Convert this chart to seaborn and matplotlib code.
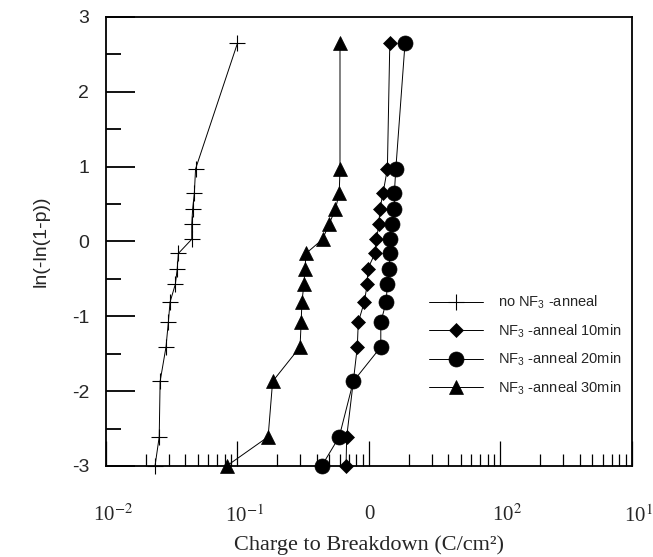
"""Weibull plot of charge to breakdown for NF3-annealed oxides."""

import numpy as np
import pandas as pd
import matplotlib
matplotlib.use("Agg")
import matplotlib.pyplot as plt
import seaborn as sns
from matplotlib.ticker import LogLocator, MultipleLocator, NullFormatter
from matplotlib.transforms import ScaledTranslation

# ── Data ─────────────────────────────────────────────────
weibull_y = [2.65, 0.97, 0.65, 0.43, 0.23, 0.03, -0.16, -0.37,
             -0.57, -0.81, -1.08, -1.41, -1.87, -2.61, -3.0]

qbd_no_anneal = [0.100, 0.048, 0.047, 0.0456, 0.0449, 0.0449, 0.0355, 0.0348,
                 0.0337, 0.0307, 0.0298, 0.0286, 0.0258, 0.0254, 0.0236]
qbd_10min = [1.44, 1.38, 1.28, 1.21, 1.19, 1.14, 1.11, 0.977,
             0.971, 0.921, 0.829, 0.815, 0.760, 0.677, 0.669]
qbd_20min = [1.88, 1.60, 1.56, 1.56, 1.49, 1.44, 1.44, 1.43,
             1.38, 1.35, 1.23, 1.23, 0.76, 0.594, 0.437]
qbd_30min = [0.602, 0.602, 0.594, 0.556, 0.496, 0.444, 0.332, 0.326,
             0.320, 0.309, 0.305, 0.299, 0.185, 0.171, 0.0828]

series_labels = ["no NF$_3$ -anneal", "NF$_3$ -anneal 10min",
                 "NF$_3$ -anneal 20min", "NF$_3$ -anneal 30min"]
x_tick_values = [1e-2, 1e-1, 1e0, 1e1, 1e2]
x_tick_labels = ["10$^{-2}$", "10$^{-1}$", "0", "10$^{2}$", "10$^{1}$"]

# ── Style ────────────────────────────────────────────────
sns.set_theme(style="ticks")
plt.rcParams["font.family"] = ["Liberation Sans", "DejaVu Sans"]
plt.rcParams["mathtext.fontset"] = "custom"
plt.rcParams["mathtext.rm"] = "Liberation Sans"
plt.rcParams["mathtext.it"] = "Liberation Sans:italic"
plt.rcParams["axes.unicode_minus"] = False

fig, ax = plt.subplots(figsize=(6.53, 5.57), dpi=100)
fig.subplots_adjust(left=0.1623, right=0.9678, bottom=0.1634, top=0.9695)
ax.set_xscale("log")

styles = [
    (qbd_no_anneal, "+", 11, 0.8),
    (qbd_10min, "D", 7.2, 0.5),
    (qbd_20min, "o", 10.8, 0.5),
    (qbd_30min, "^", 10.0, 0.5),
]
for (xs, mk, ms, mew), lab in zip(styles, series_labels):
    sns.lineplot(x=xs, y=weibull_y, estimator=None, sort=False, ax=ax,
                 color="black", linewidth=0.7, marker=mk, markersize=ms,
                 markeredgewidth=mew, markeredgecolor="black",
                 markerfacecolor="black", label=lab, clip_on=False)

# ── Axes ─────────────────────────────────────────────────
ax.set_xlim(1e-2, 1e2)
ax.set_ylim(-3, 3)
ax.set_xticks(x_tick_values)
ax.set_xticklabels(x_tick_labels, fontfamily="Liberation Serif",
                   math_fontfamily="stix", fontsize=15)
ax.xaxis.set_minor_locator(LogLocator(base=10, subs=np.arange(2, 10)))
ax.xaxis.set_minor_formatter(NullFormatter())
ax.yaxis.set_major_locator(MultipleLocator(1))
ax.yaxis.set_minor_locator(MultipleLocator(0.5))
ax.tick_params(axis="x", which="major", direction="in", length=18, width=0.9,
               pad=28, top=False, color="black")
ax.tick_params(axis="x", which="minor", direction="in", length=9, width=0.9,
               top=False, color="black")
ax.tick_params(axis="y", which="major", direction="in", length=21, width=1.3,
               pad=12, right=False, labelsize=14, color="black")
ax.tick_params(axis="y", which="minor", direction="in", length=11, width=1.3,
               right=False, color="black")
for sp in ax.spines.values():
    sp.set_linewidth(1.3)
    sp.set_color("black")

# the power-of-ten labels sit a little right of their ticks in the original
shift = ScaledTranslation(7 / 100, 0, fig.dpi_scale_trans)
for lab in ax.get_xticklabels():
    if lab.get_text() != "0":
        lab.set_transform(lab.get_transform() + shift)

ax.set_xlabel("Charge to Breakdown (C/cm²)", fontfamily="Liberation Serif",
              fontsize=16, labelpad=6)
ax.set_ylabel("ln(-ln(1-p))", fontsize=14, labelpad=16)

ax.legend(loc="upper left", bbox_to_anchor=(0.614, 0.383), frameon=False,
          fontsize=10.5, handlelength=3.7, handletextpad=1.03, labelspacing=0.76,
          borderpad=0, borderaxespad=0, numpoints=1)

plt.savefig("out.png", dpi=100)
plt.close()
